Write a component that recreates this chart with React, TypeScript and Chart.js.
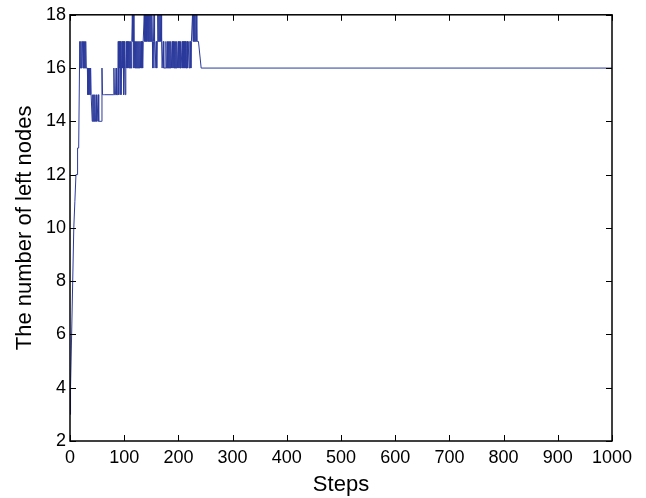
import React, { useEffect, useRef } from "react";
import { Chart, registerables } from "chart.js";

Chart.register(...registerables);

const steps: number[] = [
  0, 1, 3, 5, 7, 9, 11, 13, 14, 16, 18, 19, 20, 21, 22, 23, 24, 25, 26, 27, 28, 29,
  30, 31, 32, 33, 34, 35, 36, 37, 38, 39, 40, 41, 42, 43, 44, 45, 46, 47, 48, 49,
  50, 51, 52, 53, 54, 55, 57, 58, 59, 60, 62, 64, 80, 81, 82, 84, 85, 86, 88, 89,
  90, 91, 92, 93, 94, 95, 96, 97, 98, 99, 100, 101, 102, 103, 104, 105, 106, 107, 108, 109,
  110, 111, 112, 113, 114, 115, 116, 117, 118, 119, 120, 121, 122, 123, 124, 125, 126, 127, 128, 129,
  130, 131, 132, 133, 134, 135, 136, 137, 138, 139, 140, 141, 142, 143, 144, 145, 146, 147, 148, 149,
  150, 151, 152, 153, 154, 155, 156, 157, 158, 159, 160, 161, 162, 163, 164, 165, 166, 167, 168, 169,
  170, 171, 172, 173, 174, 175, 176, 177, 178, 179, 180, 181, 182, 183, 184, 185, 186, 187, 188, 189,
  190, 191, 192, 193, 194, 195, 196, 197, 198, 199, 200, 201, 202, 203, 204, 205, 206, 207, 208, 209,
  210, 211, 212, 213, 214, 215, 216, 217, 218, 219, 220, 221, 222, 223, 224, 225, 226, 227, 228, 229,
  230, 231, 232, 233, 234, 235, 236, 237, 238, 242, 1000,
];

const leftNodes: number[] = [
  3, 4, 6, 8, 10, 11, 12, 12, 13, 13, 17, 16, 17, 16, 17, 17, 16, 17, 16, 17, 16, 17,
  16, 16, 16, 15, 16, 15, 16, 15, 16, 15, 15, 14, 15, 14, 15, 14, 15, 14, 14, 15,
  14, 14, 15, 14, 14, 14, 14, 14, 16, 15, 15, 15, 15, 16, 15, 15, 16, 15, 15, 17,
  15, 17, 16, 17, 15, 16, 17, 16, 17, 15, 17, 16, 15, 16, 17, 16, 17, 16, 17, 16,
  17, 16, 17, 16, 17, 18, 17, 18, 16, 17, 16, 17, 16, 17, 16, 17, 16, 17, 16, 17,
  16, 17, 16, 17, 16, 17, 17, 18, 17, 18, 17, 18, 17, 18, 17, 18, 17, 18, 17, 18,
  17, 18, 17, 16, 17, 18, 17, 16, 16, 17, 16, 17, 18, 17, 18, 17, 18, 17, 18, 17,
  16, 16, 17, 16, 16, 16, 16, 17, 16, 16, 17, 16, 17, 16, 17, 16, 17, 16, 16, 17,
  16, 17, 16, 17, 16, 17, 16, 17, 16, 16, 17, 16, 17, 16, 17, 16, 16, 17, 16, 17,
  16, 17, 16, 17, 16, 16, 17, 16, 17, 17, 16, 17, 17, 16, 17, 17, 18, 17, 18, 17,
  18, 17, 18, 18, 17, 17, 17, 17, 17, 16, 16,
];

const xTicks: number[] = [0, 100, 200, 300, 400, 500, 600, 700, 800, 900, 1000];
const yTicks: number[] = [2, 4, 6, 8, 10, 12, 14, 16, 18];

const FONT = "'Liberation Sans', Arial, Helvetica, sans-serif";

const boxPlugin = {
  id: "matlabBox",
  afterDraw(chart: any) {
    const { ctx, chartArea } = chart;
    const xs = chart.scales.x;
    const ys = chart.scales.y;
    const L = 6;
    ctx.save();
    ctx.strokeStyle = "#000";
    ctx.lineWidth = 1;
    ctx.beginPath();
    for (const v of xTicks) {
      const px = Math.round(xs.getPixelForValue(v)) + 0.5;
      ctx.moveTo(px, chartArea.bottom);
      ctx.lineTo(px, chartArea.bottom - L);
      ctx.moveTo(px, chartArea.top);
      ctx.lineTo(px, chartArea.top + L);
    }
    for (const v of yTicks) {
      const py = Math.round(ys.getPixelForValue(v)) + 0.5;
      ctx.moveTo(chartArea.left, py);
      ctx.lineTo(chartArea.left + L, py);
      ctx.moveTo(chartArea.right, py);
      ctx.lineTo(chartArea.right - L, py);
    }
    ctx.stroke();
    ctx.lineWidth = 1.5;
    ctx.strokeRect(chartArea.left, chartArea.top, chartArea.right - chartArea.left, chartArea.bottom - chartArea.top);
    ctx.restore();
  },
};

export default function App() {
  const ref = useRef<HTMLCanvasElement | null>(null);
  useEffect(() => {
    if (!ref.current) return;
    const data = steps.map((s, i) => ({ x: s, y: leftNodes[i] }));
    const chart = new Chart(ref.current, {
      type: "line",
      data: {
        datasets: [
          {
            data,
            borderColor: "#2b3a9c",
            borderWidth: 1,
            pointRadius: 0,
            tension: 0,
            fill: false,
          },
        ],
      },
      options: {
        animation: false,
        responsive: false,
        events: [],
        layout: { padding: { top: 14, right: 34, left: 0, bottom: 0 } },
        plugins: { legend: { display: false }, tooltip: { enabled: false } },
        scales: {
          x: {
            type: "linear",
            min: 0,
            max: 1000,
            afterBuildTicks: (s: any) => {
              s.ticks = xTicks.map((v) => ({ value: v }));
            },
            afterFit: (s: any) => {
              s.height = 57;
            },
            grid: { display: false, drawTicks: false },
            border: { display: false },
            ticks: {
              color: "#000",
              padding: 6,
              maxRotation: 0,
              autoSkip: false,
              callback: (v: any) => String(v),
              font: { family: FONT, size: 18 },
            },
            title: {
              display: true,
              text: "Steps",
              color: "#000",
              padding: { top: 0, bottom: 0 },
              font: { family: FONT, size: 22 },
            },
          },
          y: {
            type: "linear",
            min: 2,
            max: 18,
            afterBuildTicks: (s: any) => {
              s.ticks = yTicks.map((v) => ({ value: v }));
            },
            afterFit: (s: any) => {
              s.width = 70;
            },
            grid: { display: false, drawTicks: false },
            border: { display: false },
            ticks: {
              color: "#000",
              padding: 4,
              autoSkip: false,
              callback: (v: any) => String(v),
              font: { family: FONT, size: 18 },
            },
            title: {
              display: true,
              text: "The number of left nodes",
              color: "#000",
              padding: { top: 12, bottom: 0 },
              font: { family: FONT, size: 22 },
            },
          },
        },
      },
      plugins: [boxPlugin],
    });
    return () => chart.destroy();
  }, []);
  return (
    <div style={{ position: "fixed", left: 0, top: 0, width: 646, height: 498, background: "#fff" }}>
      <canvas ref={ref} width={646} height={498} style={{ width: 646, height: 498 }} />
    </div>
  );
}
